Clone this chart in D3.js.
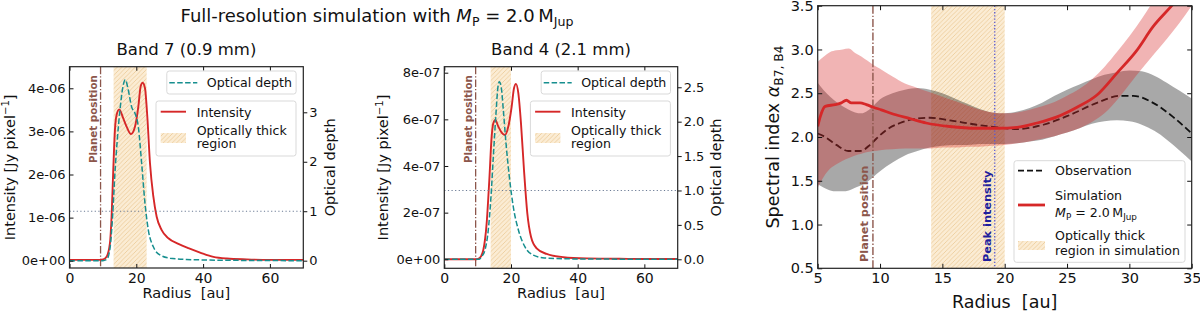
<!DOCTYPE html>
<html><head><meta charset="utf-8">
<script src="https://cdn.jsdelivr.net/npm/d3@7"></script>
<style>
body{margin:0;background:#fff}
svg{display:block}
text{font-family:"DejaVu Sans",sans-serif;fill:#111}
</style>
</head><body><svg id="c" width="1200" height="311"></svg>
<script>
// ---------------- DATA ----------------
// Band 7 (0.9 mm)
const b7IntR   = [0, 5, 9, 10.1, 11.1, 12.1, 12.6, 13.1, 13.6, 14.1, 14.9, 16.1, 17.1, 18.4, 19.6, 20.6, 21.3, 21.9, 22.6, 23.3, 24.1, 25.1, 26.1, 27.6, 29.6, 32.6, 35.6, 39.1, 43.1, 47.1, 53.1, 60, 70];
const b7Int    = [0.02,0.02,0.02,0.03,0.09,0.40,1.02,2.10,3.03,3.38,3.51,3.30,3.11,2.94,3.11,3.57,4.04,4.13,4.00,3.34,2.26,1.49,1.02,0.71,0.52,0.39,0.29,0.19,0.09,0.05,0.03,0.02,0.02].map(v=>v*1e-6);
const b7TauR   = [0, 10, 11, 11.6, 12.3, 12.9, 13.6, 14.3, 15.1, 15.9, 16.7, 17.6, 18.6, 19.6, 20.6, 21.6, 22.6, 23.6, 25.1, 27.1, 30.1, 35, 45, 70];
const b7Tau    = [0, 0, 0.02, 0.08, 0.35, 0.89, 1.77, 2.44, 3.04, 3.48, 3.66, 3.45, 3.11, 2.98, 2.71, 1.97, 1.16, 0.62, 0.28, 0.115, 0.05, 0.025, 0.01, 0];
// Band 4 (2.1 mm)
const b4IntR   = [0, 9.7, 10.7, 11.7, 12.7, 13.5, 14.2, 14.7, 15.3, 16.2, 17.2, 18.2, 19.2, 20.2, 20.9, 21.5, 22.2, 23.0, 23.9, 24.9, 26.0, 27.7, 30.7, 35.7, 42.7, 55, 70];
const b4Int    = [0,0,0.07,0.40,1.54,3.40,5.26,5.83,5.97,5.69,5.43,5.33,5.69,6.54,7.33,7.52,7.12,5.83,3.83,1.97,0.97,0.47,0.23,0.09,0.04,0.02,0.01].map(v=>v*1e-7);
const b4TauR   = [0, 10.5, 11.2, 12.2, 13.2, 14.0, 14.7, 15.5, 16.1, 16.5, 17.1, 17.7, 18.5, 19.5, 20.7, 22.2, 24.2, 26.7, 30, 40, 70];
const b4Tau    = [0, 0, 0.04, 0.135, 0.43, 0.91, 1.49, 2.12, 2.51, 2.58, 2.49, 2.17, 1.69, 1.20, 0.76, 0.43, 0.18, 0.06, 0.02, 0.005, 0];
// Spectral index
const obsR     = [5, 5.6, 6.5, 7.45, 8.4, 9.2, 9.7, 10.5, 11.6, 12.9, 14.0, 15.6, 17.75, 19.4, 21.0, 23.1, 25.2, 27.4, 29.25, 30.3, 31.9, 33.5, 35];
const obsA     = [2.04, 2.00, 1.91, 1.84, 1.84, 1.91, 1.98, 2.08, 2.16, 2.21, 2.22, 2.19, 2.14, 2.11, 2.09, 2.14, 2.25, 2.39, 2.47, 2.47, 2.39, 2.23, 2.04];
const simR     = [5.0, 5.2, 5.6, 6.4, 6.9, 7.3, 7.7, 8.4, 8.9, 9.46, 10.1, 11.1, 12.4, 13.7, 15.6, 17.75, 19.4, 21.0, 22.6, 24.2, 25.8, 27.4, 29.0, 30.6, 31.9, 33.4, 35];
const simA     = [2.12, 2.23, 2.35, 2.37, 2.39, 2.42, 2.39, 2.39, 2.37, 2.34, 2.31, 2.26, 2.21, 2.16, 2.12, 2.10, 2.10, 2.11, 2.16, 2.23, 2.34, 2.48, 2.73, 2.99, 3.26, 3.50, 3.78];
const bandR    = [5,5.5,6,6.5,7,7.5,8,8.5,9,9.5,10,11,12,13,14,15,16,17,18,19,20,21,22,23,24,25,26,27,28,29,30,31,32,33,34,35];
const simUp    = [2.86,2.92,2.97,2.99,3.00,3.01,2.96,2.92,2.87,2.82,2.78,2.69,2.61,2.56,2.51,2.46,2.41,2.36,2.31,2.28,2.27,2.28,2.31,2.35,2.40,2.47,2.55,2.66,2.80,2.97,3.15,3.35,3.57,3.78,4.00,4.20];
const simLo    = [1.42,1.55,1.64,1.69,1.73,1.76,1.79,1.81,1.83,1.84,1.85,1.86,1.87,1.87,1.87,1.88,1.88,1.89,1.89,1.90,1.91,1.93,1.95,1.98,2.01,2.05,2.10,2.17,2.27,2.42,2.60,2.78,2.95,3.12,3.30,3.50];
const obsUp    = [2.62,2.53,2.46,2.40,2.35,2.31,2.28,2.27,2.30,2.36,2.43,2.50,2.54,2.56,2.54,2.50,2.44,2.38,2.32,2.28,2.27,2.29,2.33,2.39,2.47,2.54,2.60,2.66,2.71,2.74,2.76,2.75,2.70,2.62,2.53,2.44];
const obsLo    = [1.46,1.42,1.39,1.38,1.38,1.39,1.42,1.45,1.49,1.55,1.61,1.71,1.79,1.84,1.88,1.90,1.91,1.91,1.92,1.92,1.92,1.93,1.95,1.97,2.01,2.05,2.10,2.15,2.18,2.19,2.18,2.14,2.07,1.97,1.85,1.72];
// Ticks
const lowXTicks = [0, 20, 40, 60];
const b7ITicks = [0, 1e-6, 2e-6, 3e-6, 4e-6], b7ILabels = ["0e+00","1e-06","2e-06","3e-06","4e-06"];
const b7TTicks = [0, 1, 2, 3], b7TLabels = ["0","1","2","3"];
const b4ITicks = [0, 2e-7, 4e-7, 6e-7, 8e-7], b4ILabels = ["0e+00","2e-07","4e-07","6e-07","8e-07"];
const b4TTicks = [0, 0.5, 1, 1.5, 2, 2.5], b4TLabels = ["0.0","0.5","1.0","1.5","2.0","2.5"];
const spXTicks = [5, 10, 15, 20, 25, 30, 35];
const spYTicks = [0.5, 1, 1.5, 2, 2.5, 3, 3.5], spYLabels = ["0.5","1.0","1.5","2.0","2.5","3.0","3.5"];

// ---------------- DRAW ----------------
const svg = d3.select("#c");
const defs = svg.append("defs");
const pat = defs.append("pattern").attr("id","hatch").attr("patternUnits","userSpaceOnUse").attr("width",4.5).attr("height",4.5);
pat.append("rect").attr("width",4.5).attr("height",4.5).attr("fill","#fbecd4");
pat.append("path").attr("d","M-1,1 L1,-1 M0,4.5 L4.5,0 M3.5,5.5 L5.5,3.5").attr("stroke","#ebc995").attr("stroke-width",0.8);

const RED = "#d62728", TEAL = "#178f8f", BROWN = "#8c564b";
const XLABEL = "Radius\u00a0\u00a0[au]";

function styleAxis(g, fs){
  g.select(".domain").remove();
  g.selectAll(".tick line").attr("stroke","#111").attr("stroke-width",1);
  g.selectAll(".tick text").attr("font-size",fs).attr("fill","#111").attr("font-family","DejaVu Sans");
}
function frame(L,T,R,B){
  svg.append("rect").attr("x",L).attr("y",T).attr("width",R-L).attr("height",B-T)
    .attr("fill","none").attr("stroke","#222").attr("stroke-width",1.2);
}
function subText(sel, parts, fs){
  let shift = 0;
  parts.forEach(([t,type])=>{
    const ts = sel.append("tspan").text(t);
    let target = 0;
    if(type==='s') target = fs*0.25; else if(type==='p') target = -fs*0.38;
    ts.attr("dy", target - shift); shift = target;
    if(type==='s'||type==='p') ts.attr("font-size", fs*0.7);
    if(type==='i') ts.attr("font-style","italic");
  });
}

function lowPanel(o){
  const x = d3.scaleLinear().domain([0,70]).range([o.L,o.R]);
  const yI = d3.scaleLinear().domain(o.iDom).range([o.B,o.T]);
  const yT = d3.scaleLinear().domain(o.tDom).range([o.B,o.T]);
  defs.append("clipPath").attr("id",o.id).append("rect").attr("x",o.L).attr("y",o.T).attr("width",o.R-o.L).attr("height",o.B-o.T);
  const g = svg.append("g").attr("clip-path",`url(#${o.id})`);
  g.append("rect").attr("x",x(o.thick[0])).attr("width",x(o.thick[1])-x(o.thick[0]))
    .attr("y",o.T).attr("height",o.B-o.T).attr("fill","url(#hatch)");
  g.append("line").attr("x1",x(o.planet)).attr("x2",x(o.planet)).attr("y1",o.T).attr("y2",o.B)
    .attr("stroke",BROWN).attr("stroke-width",1.3).attr("stroke-dasharray","7.5,2,1.3,2");
  const lI = d3.line().x(d=>x(d[0])).y(d=>yI(d[1])).curve(d3.curveMonotoneX);
  const lT = d3.line().x(d=>x(d[0])).y(d=>yT(d[1])).curve(d3.curveMonotoneX);
  g.append("path").datum(d3.zip(o.intR,o.int)).attr("d",lI).attr("fill","none").attr("stroke",RED).attr("stroke-width",1.9);
  g.append("line").attr("x1",o.L).attr("x2",o.R).attr("y1",yT(1)).attr("y2",yT(1))
    .attr("stroke","#6b7b95").attr("stroke-width",1.1).attr("stroke-dasharray","1.2,2.4");
  g.append("path").datum(d3.zip(o.tauR,o.tau)).attr("d",lT).attr("fill","none").attr("stroke",TEAL).attr("stroke-width",1.5).attr("stroke-dasharray","5.5,2.4");
  svg.append("text").attr("transform",`translate(${x(o.planet)-3.4},163) rotate(-90)`)
    .attr("font-size",10.3).attr("font-weight","bold").style("fill",BROWN).text("Planet position");
  const ax = svg.append("g").attr("transform",`translate(0,${o.B})`)
    .call(d3.axisBottom(x).tickValues(lowXTicks).tickFormat(d=>d).tickSize(-4).tickPadding(5));
  styleAxis(ax,14);
  const axT = svg.append("g").attr("transform",`translate(0,${o.T})`)
    .call(d3.axisTop(x).tickValues(lowXTicks).tickFormat("").tickSize(-4));
  styleAxis(axT,13);
  const ayL = svg.append("g").attr("transform",`translate(${o.L},0)`)
    .call(d3.axisLeft(yI).tickValues(o.iTicks).tickFormat((d,i)=>o.iLabels[i]).tickSize(-4).tickPadding(4));
  styleAxis(ayL,13);
  const ayR = svg.append("g").attr("transform",`translate(${o.R},0)`)
    .call(d3.axisRight(yT).tickValues(o.tTicks).tickFormat((d,i)=>o.tLabels[i]).tickSize(4).tickPadding(2));
  styleAxis(ayR,13);
  frame(o.L,o.T,o.R,o.B);
  const cx = (o.L+o.R)/2, cy = (o.T+o.B)/2;
  svg.append("text").attr("x",cx).attr("y",55).attr("text-anchor","middle").attr("font-size",16.5).text(o.title);
  svg.append("text").attr("x",cx).attr("y",298).attr("text-anchor","middle").attr("font-size",14.6).text(XLABEL);
  const yl = svg.append("text").attr("transform",`translate(${o.yLx},${cy}) rotate(-90)`).attr("text-anchor","middle").attr("font-size",14.5);
  subText(yl,[["Intensity [Jy pixel",'n'],["\u22121",'p'],["]",'n']],14.5);
  svg.append("text").attr("transform",`translate(${o.yRx},${cy}) rotate(-90)`).attr("text-anchor","middle").attr("font-size",14.5).text("Optical depth");
  const fs = 12.6;
  svg.append("rect").attr("x",o.R-136.5).attr("y",71).attr("width",129.3).attr("height",23).attr("rx",2.5)
    .attr("fill","#fff").attr("fill-opacity",0.85).attr("stroke","#d9d9d9");
  svg.append("line").attr("x1",o.R-134).attr("x2",o.R-106).attr("y1",82.7).attr("y2",82.7)
    .attr("stroke",TEAL).attr("stroke-width",1.5).attr("stroke-dasharray","5.5,2.4");
  svg.append("text").attr("x",o.R-96.5).attr("y",87.3).attr("font-size",fs).text("Optical depth");
  svg.append("rect").attr("x",o.R-147.3).attr("y",101).attr("width",140).attr("height",55).attr("rx",2.5)
    .attr("fill","#fff").attr("fill-opacity",0.85).attr("stroke","#d9d9d9");
  svg.append("line").attr("x1",o.R-142.6).attr("x2",o.R-117.3).attr("y1",111.7).attr("y2",111.7)
    .attr("stroke",RED).attr("stroke-width",1.9);
  svg.append("text").attr("x",o.R-106.6).attr("y",116.5).attr("font-size",fs).text("Intensity");
  svg.append("rect").attr("x",o.R-142.6).attr("y",133).attr("width",25.3).attr("height",10).attr("fill","url(#hatch)");
  svg.append("text").attr("x",o.R-106.6).attr("y",135).attr("font-size",fs).text("Optically thick");
  svg.append("text").attr("x",o.R-106.6).attr("y",148.3).attr("font-size",fs).text("region");
}

lowPanel({id:"c1", L:69.5, R:303.3, T:66.7, B:268, iDom:[-0.169e-6,4.501e-6], tDom:[-0.148,3.922],
  thick:[13.2,23.1], planet:9.3, intR:b7IntR, int:b7Int, tauR:b7TauR, tau:b7Tau,
  iTicks:b7ITicks, iLabels:b7ILabels, tTicks:b7TTicks, tLabels:b7TLabels,
  title:"Band 7 (0.9 mm)", yLx:14.5, yRx:335});
lowPanel({id:"c2", L:444.3, R:677.7, T:66.7, B:268.3, iDom:[-0.386e-7,8.257e-7], tDom:[-0.131,2.799],
  thick:[13.9,20.0], planet:9.4, intR:b4IntR, int:b4Int, tauR:b4TauR, tau:b4Tau,
  iTicks:b4ITicks, iLabels:b4ILabels, tTicks:b4TTicks, tLabels:b4TLabels,
  title:"Band 4 (2.1 mm)", yLx:388, yRx:721});

const tt = svg.append("text").attr("x",377).attr("y",21.7).attr("text-anchor","middle").attr("font-size",18);
subText(tt,[["Full-resolution simulation with ",'n'],["M",'i'],["P",'s'],[" = 2.0\u2009M",'n'],["Jup",'s']],18);

// ---------------- Spectral index panel ----------------
(function(){
  const L=817.7, R=1191.7, T=5.7, B=268.3;
  const x = d3.scaleLinear().domain([5,35]).range([L,R]);
  const y = d3.scaleLinear().domain([0.5,3.5]).range([B,T]);
  defs.append("clipPath").attr("id","c3").append("rect").attr("x",L).attr("y",T).attr("width",R-L).attr("height",B-T);
  const g = svg.append("g").attr("clip-path","url(#c3)");
  g.append("rect").attr("x",x(14.1)).attr("width",x(20.0)-x(14.1)).attr("y",T).attr("height",B-T).attr("fill","url(#hatch)");
  const area = (lo,up)=>d3.area().x((d,i)=>x(bandR[i])).y0((d,i)=>y(lo[i])).y1((d,i)=>y(up[i])).curve(d3.curveMonotoneX);
  const ln = d3.line().x(d=>x(d[0])).y(d=>y(d[1])).curve(d3.curveMonotoneX);
  g.append("path").datum(bandR).attr("d",area(obsLo,obsUp)).attr("fill","#000").attr("fill-opacity",0.34);
  g.append("path").datum(d3.zip(obsR,obsA)).attr("d",ln).attr("fill","none").attr("stroke","#111").attr("stroke-width",1.8).attr("stroke-dasharray","7,3.5");
  g.append("path").datum(bandR).attr("d",area(simLo,simUp)).attr("fill",RED).attr("fill-opacity",0.35);
  g.append("line").attr("x1",x(9.43)).attr("x2",x(9.43)).attr("y1",T).attr("y2",B)
    .attr("stroke",BROWN).attr("stroke-width",1.4).attr("stroke-dasharray","8,2,1.4,2");
  g.append("line").attr("x1",x(19.2)).attr("x2",x(19.2)).attr("y1",T).attr("y2",B)
    .attr("stroke","#5a5ad0").attr("stroke-width",1.3).attr("stroke-dasharray","1.3,1.9");
  g.append("path").datum(d3.zip(simR,simA)).attr("d",ln).attr("fill","none").attr("stroke",RED).attr("stroke-width",2.8);
  svg.append("text").attr("transform",`translate(${x(9.43)-4.5},262) rotate(-90)`)
    .attr("font-size",11.3).attr("font-weight","bold").style("fill",BROWN).text("Planet position");
  svg.append("text").attr("transform",`translate(${x(19.2)-3.5},262) rotate(-90)`)
    .attr("font-size",11.3).attr("font-weight","bold").style("fill","#1f1f9e").text("Peak intensity");
  const ax = svg.append("g").attr("transform",`translate(0,${B})`)
    .call(d3.axisBottom(x).tickValues(spXTicks).tickFormat(d=>d).tickSize(-4.5).tickPadding(4));
  styleAxis(ax,14.5);
  const axT = svg.append("g").attr("transform",`translate(0,${T})`).call(d3.axisTop(x).tickValues(spXTicks).tickFormat("").tickSize(-4.5));
  styleAxis(axT,14);
  const ay = svg.append("g").attr("transform",`translate(${L},0)`)
    .call(d3.axisLeft(y).tickValues(spYTicks).tickFormat((d,i)=>spYLabels[i]).tickSize(-4.5).tickPadding(4));
  styleAxis(ay,14.5);
  const ayR = svg.append("g").attr("transform",`translate(${R},0)`).call(d3.axisRight(y).tickValues(spYTicks).tickFormat("").tickSize(-4.5));
  styleAxis(ayR,14);
  frame(L,T,R,B);
  svg.append("text").attr("x",(L+R)/2).attr("y",308).attr("text-anchor","middle").attr("font-size",17.5).text(XLABEL);
  const yl = svg.append("text").attr("transform",`translate(779,${(T+B)/2}) rotate(-90)`).attr("text-anchor","middle").attr("font-size",17.5);
  subText(yl,[["Spectral index ",'n'],["\u03b1",'i'],["B7, B4",'s']],17.5);
  const fs=12.6;
  svg.append("rect").attr("x",1014).attr("y",160.7).attr("width",171).attr("height",101.6).attr("rx",2.5)
    .attr("fill","#fff").attr("fill-opacity",0.85).attr("stroke","#d9d9d9");
  svg.append("line").attr("x1",1018).attr("x2",1045).attr("y1",170.7).attr("y2",170.7).attr("stroke","#111").attr("stroke-width",1.8).attr("stroke-dasharray","6,3");
  svg.append("text").attr("x",1055).attr("y",175).attr("font-size",fs).text("Observation");
  svg.append("line").attr("x1",1018).attr("x2",1045).attr("y1",205).attr("y2",205).attr("stroke",RED).attr("stroke-width",2.8);
  svg.append("text").attr("x",1055).attr("y",200).attr("font-size",fs).text("Simulation");
  const lt = svg.append("text").attr("x",1055).attr("y",216.5).attr("font-size",fs);
  subText(lt,[["M",'i'],["P",'s'],[" = 2.0\u2009M",'n'],["Jup",'s']],fs);
  svg.append("rect").attr("x",1018).attr("y",241).attr("width",27).attr("height",9).attr("fill","url(#hatch)");
  svg.append("text").attr("x",1055).attr("y",240).attr("font-size",fs).text("Optically thick");
  svg.append("text").attr("x",1055).attr("y",255).attr("font-size",fs).text("region in simulation");
})();
</script>
</body></html>
